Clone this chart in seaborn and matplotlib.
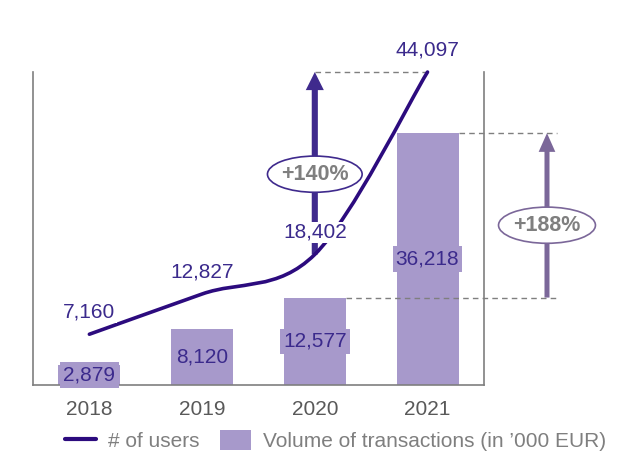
import numpy as np
import pandas as pd
import seaborn as sns
import matplotlib
matplotlib.use("Agg")
import matplotlib.pyplot as plt
from matplotlib.path import Path
from matplotlib.patches import PathPatch, Ellipse, FancyArrowPatch, Patch
from matplotlib.lines import Line2D

# --- data -------------------------------------------------------------
years = ["2018", "2019", "2020", "2021"]
users = [7160, 12827, 18402, 44097]
volume = [2879, 8120, 12577, 36218]
growth_labels = ["+140%", "+188%"]
legend_labels = ["# of users", "Volume of transactions (in \u2019000 EUR)"]

# --- style ------------------------------------------------------------
BAR = "#A799CB"
LINE = "#2C0B7E"
LABEL = "#3B2A8C"
ARROW_USERS = "#3F2A8D"
ARROW_VOL = "#7B6799"
GRAY = "#7F7F7F"
TICK = "#595959"

sns.set_theme(style="white")
plt.rcParams["font.family"] = ["Liberation Sans", "DejaVu Sans"]

fig = plt.figure(figsize=(6.35, 4.53), dpi=100)
ax = fig.add_axes([0.052, 0.150, 0.710, 0.691])

df = pd.DataFrame({"year": years, "volume": volume, "users": users})
bar_width = 0.55
sns.barplot(data=df, x="year", y="volume", color=BAR, saturation=1,
            width=bar_width, linewidth=0, ax=ax)
ax.set_xlim(-0.5, 3.5)
ax.set_ylim(0, 45000)
ax.set_xlabel("")
ax.set_ylabel("")
ax.set_yticks([])
ax.tick_params(axis="x", length=0, pad=11, labelsize=15, labelcolor=TICK)
ax.spines["top"].set_visible(False)
for s in ("left", "right", "bottom"):
    ax.spines[s].set_color(GRAY)
    ax.spines[s].set_linewidth(1.2)

# bar value labels
for i, v in enumerate(volume):
    ax.text(i, v / 2, f"{v:,}", ha="center", va="center", fontsize=15,
            color=LABEL, zorder=4,
            bbox=dict(boxstyle="square,pad=0.15", fc=BAR, ec="none"))

# --- users line on secondary scale -------------------------------------
ax2 = ax.twinx()
ax2.set_ylim(0, 44100)
ax2.set_axis_off()

xs = np.arange(len(users), dtype=float)
ys = np.asarray(users, dtype=float)
pts = np.column_stack([xs, ys])
ext = np.vstack([pts[0], pts, pts[-1]])
verts = [tuple(pts[0])]
codes = [Path.MOVETO]
for k in range(len(pts) - 1):
    p0, p1, p2, p3 = ext[k], ext[k + 1], ext[k + 2], ext[k + 3]
    c1 = p1 + (p2 - p0) / 6.0
    c2 = p2 - (p3 - p1) / 6.0
    verts += [tuple(c1), tuple(c2), tuple(p2)]
    codes += [Path.CURVE4] * 3
ax2.add_patch(PathPatch(Path(verts, codes), fc="none", ec=LINE, lw=2.6,
                        capstyle="round", zorder=5, clip_on=False))

for i, v in enumerate(users):
    ax2.annotate(f"{v:,}", (i, v), xytext=(0, 16), textcoords="offset points",
                 ha="center", va="center", fontsize=15, color=LABEL, zorder=6,
                 annotation_clip=False,
                 bbox=dict(boxstyle="square,pad=0.05", fc="white", ec="none"))

# growth of users: 2020 -> 2021
ax2.plot([2, 3], [users[3], users[3]], ls=(0, (4, 3)), color=GRAY, lw=1.0,
         zorder=2, clip_on=False)
ax2.add_patch(FancyArrowPatch((2, users[2]), (2, users[3]),
                              arrowstyle="simple,head_length=1.3,head_width=1.3,tail_width=0.44",
                              mutation_scale=10, color=ARROW_USERS, lw=0,
                              shrinkA=0, shrinkB=0, zorder=3, clip_on=False))
cy_u = users[2] + 0.44 * (users[3] - users[2])
ax2.add_patch(Ellipse((2, cy_u), width=0.84, height=5100, fc="white",
                      ec=ARROW_USERS, lw=1.2, zorder=6, clip_on=False))
ax2.text(2, cy_u, growth_labels[0], ha="center", va="center", fontsize=15.5,
         fontweight="bold", color=GRAY, zorder=7)

# growth of volume: 2020 -> 2021, drawn right of the plot
xa = 4.06
ax.plot([2 + bar_width / 2, xa + 0.09], [volume[2], volume[2]],
        ls=(0, (4, 3)), color=GRAY, lw=1.0, clip_on=False, zorder=2)
ax.plot([3 + bar_width / 2, xa + 0.09], [volume[3], volume[3]],
        ls=(0, (4, 3)), color=GRAY, lw=1.0, clip_on=False, zorder=2)
ax.add_patch(FancyArrowPatch((xa, volume[2]), (xa, volume[3]),
                             arrowstyle="simple,head_length=1.35,head_width=1.2,tail_width=0.36",
                             mutation_scale=10, color=ARROW_VOL, lw=0,
                             shrinkA=0, shrinkB=0, zorder=3, clip_on=False))
cy_v = volume[2] + 0.44 * (volume[3] - volume[2])
ax.add_patch(Ellipse((xa, cy_v), width=0.86, height=5200, fc="white",
                     ec=ARROW_VOL, lw=1.2, zorder=6, clip_on=False))
ax.text(xa, cy_v, growth_labels[1], ha="center", va="center", fontsize=15.5,
        fontweight="bold", color=GRAY, zorder=7)

# --- legend -------------------------------------------------------------
handles = [Line2D([0], [0], color=LINE, lw=3),
           Patch(facecolor=BAR, edgecolor="none")]
fig.legend(handles, legend_labels, loc="center", bbox_to_anchor=(0.528, 0.027),
           ncol=2, frameon=False, fontsize=15, labelcolor=GRAY,
           handlelength=1.5, handleheight=1.1, handletextpad=0.55,
           columnspacing=1.0)

fig.savefig("out.png", dpi=100)
